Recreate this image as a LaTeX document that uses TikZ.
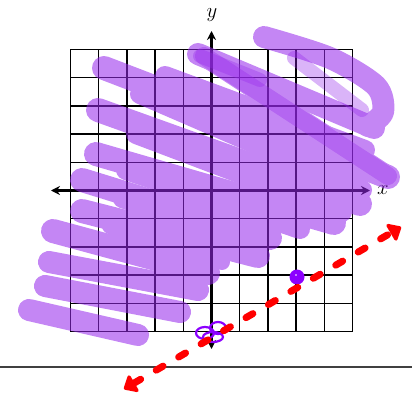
\documentclass[tikz,border=0pt]{standalone}
\usetikzlibrary{arrows.meta}
\definecolor{scrib}{RGB}{150,40,235}
\definecolor{dotc}{RGB}{140,0,255}
\definecolor{redl}{RGB}{255,0,0}
\begin{document}
\begin{tikzpicture}[x=1pt,y=-1pt,
  gridl/.style={line width=1.5pt,black},
  axisl/.style={line width=2.8pt,black,{Stealth[length=9pt,width=9pt]}-{Stealth[length=9pt,width=9pt]}},
  scr/.style={line width=24pt,scrib,line cap=round,line join=round},
  scrdark/.style={line width=18pt,scrib,opacity=0.35,line cap=round,line join=round},
  redline/.style={redl,line width=7pt,line cap=round,dash pattern=on 8pt off 18pt,
     {Triangle[length=13pt,width=22pt,round]}-{Triangle[length=13pt,width=22pt,round]}},
  lbl/.style={inner sep=0pt,font=\fontsize{20}{20}\selectfont},
  ptloop/.style={dotc,line width=2.2pt},
]
\useasboundingbox (0,0) rectangle (412,398);
% grid
\foreach \i in {-5,...,5}{
  \draw[gridl] ({211.5+28.2*\i},49.5) -- ({211.5+28.2*\i},331.5);
  \draw[gridl] (70.5,{190.5+28.2*\i}) -- (352.5,{190.5+28.2*\i});
}
% axes
\coordinate (xl0) at (51,190.5);
\coordinate (xr0) at (370,190.5);
\coordinate (yb0) at (211.5,349);
\coordinate (yt0) at (211.5,31);
\draw[axisl] (xl0) -- (xr0);
\draw[axisl] (yb0) -- (yt0);
\node[lbl] (xlab) at (383,190) {$x$};
\node[lbl] (ylab) at (212,15) {$y$};
% bottom line
\coordinate (bl) at (0,367);
\coordinate (br) at (412,367);
\draw[line width=1.2pt,black!75] (bl) -- (br);
% scribbles (one transparency group: uniform shade)
\begin{scope}[transparency group,opacity=0.56]
\draw[scr,line width=22pt] plot[smooth] coordinates {(264,37) (330,58) (376,86) (383,112) (368,126)};
\draw[scr,line width=22pt] (198,54) -- (374,128);
\draw[scr,line width=20pt] (204,56) -- (388,176);
\draw[scr,line width=20pt] (165,76) -- (365,150);
\draw[scr] (104,68) -- (388,177);
\draw[scr,line width=20pt] (140,94) -- (362,190);
\draw[scr] (98,110) -- (360,204);
\draw[scr,line width=20pt] (136,134) -- (342,212);
\draw[scr] (96,154) -- (334,223);
\draw[scr,line width=20pt] (126,170) -- (300,229);
\draw[scr] (82,180) -- (270,238);
\draw[scr,line width=18pt] (122,199) -- (252,245);
\draw[scr] (82,211) -- (258,256);
\draw[scr,line width=16pt] (110,226) -- (222,262);
\draw[scr] (53,231) -- (208,273);
\draw[scr,line width=22pt] (49,262) -- (198,290);
\draw[scr,line width=22pt] (45,286) -- (180,312);
\draw[scr,line width=22pt] (29,310) -- (138,335);
\end{scope}
% darker overlaps
\draw[scrdark] (204,56) -- (388,176);
\draw[scrdark,line width=14pt] (294,58) -- (362,110);
\draw[scrdark,line width=14pt] (200,56) -- (260,80);
% points
\fill[dotc] (297,277) circle (7.5);
\fill[white] (296,275) circle (0.9);
\draw[ptloop] (205,333) ellipse (9 and 6);
\draw[ptloop] (218,328) ellipse (8 and 6);
\draw[ptloop] (213,337) ellipse (10 and 5);
% red dashed line
\coordinate (rA) at (124,389);
\coordinate (rB) at (401,227);
\draw[redline] (rA) -- (rB);
\end{tikzpicture}
\end{document}
